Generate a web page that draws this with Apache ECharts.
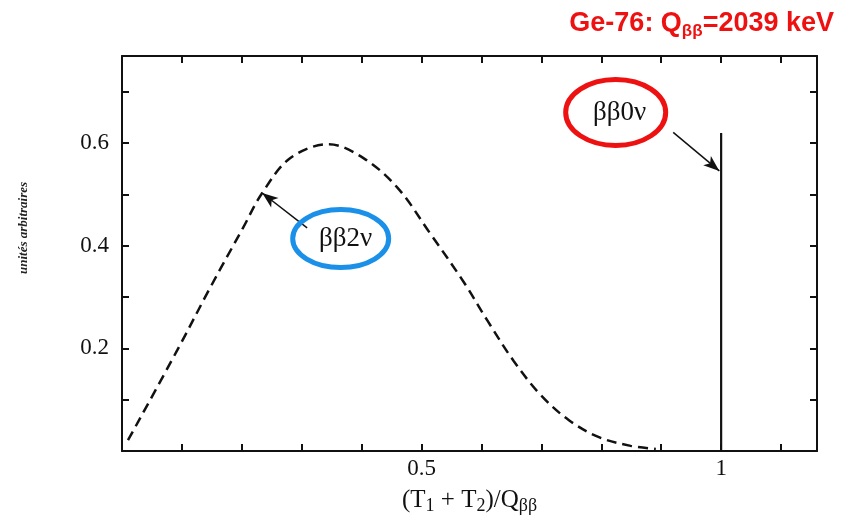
<!DOCTYPE html>
<html>
<head>
<meta charset="utf-8">
<script src="https://cdn.jsdelivr.net/npm/echarts@6/dist/echarts.min.js"></script>
<style>
  html, body { margin: 0; padding: 0; background: #fff; }
  #main { width: 851px; height: 521px; }
</style>
</head>
<body>
<div id="main"></div>
<script>
// 2nu double beta spectrum (dashed)
var twoNuX = [0.01, 0.092, 0.147, 0.202, 0.234, 0.281, 0.345, 0.403, 0.46, 0.515, 0.57, 0.61, 0.654, 0.699, 0.746, 0.796, 0.849, 0.891];
var twoNuY = [0.021, 0.196, 0.318, 0.435, 0.503, 0.571, 0.598, 0.571, 0.513, 0.423, 0.330, 0.254, 0.175, 0.109, 0.060, 0.027, 0.010, 0.004];
// 0nu peak at the endpoint
var zeroNuX = [1, 1];
var zeroNuY = [0, 0.62];
// tick labels shown
var xLabels = [0.5, 1];
var yLabels = [0.2, 0.4, 0.6];
// annotations (data coords): label centre, arrow start, arrow end
var ann0nu = { text: 'ββ0ν', at: [0.824, 0.660], from: [0.920, 0.621], to: [0.997, 0.546] };
var ann2nu = { text: 'ββ2ν', at: [0.365, 0.414], from: [0.309, 0.435], to: [0.234, 0.503] };

var chart = echarts.init(document.getElementById('main'));

var serif = '"Liberation Serif", "DejaVu Serif", serif';
function pick(list, v) {
  for (var i = 0; i < list.length; i++) if (Math.abs(list[i] - v) < 1e-6) return true;
  return false;
}
function pairs(xs, ys) {
  return xs.map(function (x, i) { return [x, ys[i]]; });
}

var axisBase = {
  type: 'value',
  axisLine: { show: true, onZero: false, lineStyle: { color: '#111', width: 2 } },
  axisTick: { show: true, inside: true, length: 7, lineStyle: { color: '#111', width: 2 } },
  splitLine: { show: false }
};

var option = {
  animation: false,
  backgroundColor: '#fff',
  title: {
    text: 'Ge-76: Q{s|ββ}=2039 keV',
    right: 12,
    top: 3,
    textStyle: {
      color: '#ee1111',
      fontFamily: '"Liberation Sans", Arial, sans-serif',
      fontWeight: 'bold',
      fontSize: 27,
      rich: {
        s: { color: '#ee1111', fontFamily: '"Liberation Sans", Arial, sans-serif', fontWeight: 'bold', fontSize: 17, padding: [15, 0, 0, 0] }
      }
    }
  },
  grid: { left: 122, right: 34, top: 56, bottom: 70, containLabel: false, outerBoundsMode: 'none' },
  xAxis: [
    Object.assign({}, axisBase, {
      min: 0, max: 1.16, interval: 0.1, position: 'bottom',
      axisLabel: {
        color: '#111', fontFamily: serif, fontSize: 23, margin: 6,
        formatter: function (v) { return pick(xLabels, v) ? String(+v.toFixed(1)) : ''; }
      },
      name: '(T{s|1} + T{s|2})/Q{s|ββ}',
      nameLocation: 'middle',
      nameGap: 34,
      nameTextStyle: {
        color: '#111', fontFamily: serif, fontSize: 25,
        rich: { s: { fontFamily: serif, fontSize: 18, padding: [12, 0, 0, 0], color: '#111' } }
      }
    }),
    Object.assign({}, axisBase, {
      min: 0, max: 1.16, interval: 0.1, position: 'top',
      axisLabel: { show: false }
    })
  ],
  yAxis: [
    Object.assign({}, axisBase, {
      min: 0, max: 0.77, interval: 0.1, position: 'left',
      axisLabel: {
        color: '#111', fontFamily: serif, fontSize: 23, margin: 13,
        formatter: function (v) { return pick(yLabels, v) ? v.toFixed(1) : ''; }
      }
    }),
    Object.assign({}, axisBase, {
      min: 0, max: 0.77, interval: 0.1, position: 'right',
      axisLabel: { show: false }
    })
  ],
  series: [
    {
      name: 'ββ2ν',
      type: 'line',
      smooth: 0.35,
      showSymbol: false,
      data: pairs(twoNuX, twoNuY),
      lineStyle: { color: '#111', width: 2.5, type: [10, 6] },
      markLine: {
        silent: true,
        symbol: ['none', 'arrow'],
        symbolSize: [9, 16],
        label: { show: false },
        lineStyle: { color: '#111', width: 1.5, type: 'solid' },
        data: [
          [{ coord: ann2nu.from }, { coord: ann2nu.to }],
          [{ coord: ann0nu.from }, { coord: ann0nu.to }]
        ]
      }
    },
    {
      name: 'ββ0ν',
      type: 'line',
      showSymbol: false,
      data: pairs(zeroNuX, zeroNuY),
      lineStyle: { color: '#111', width: 2.2 }
    }
  ]
};

chart.setOption(option);

function px(p) { return chart.convertToPixel({ xAxisIndex: 0, yAxisIndex: 0 }, p); }
var c0 = px(ann0nu.at), c2 = px(ann2nu.at);

chart.setOption({
  graphic: [
    {
      type: 'ellipse',
      shape: { cx: c0[0], cy: c0[1], rx: 50, ry: 33 },
      style: { fill: 'none', stroke: '#ee1111', lineWidth: 5 },
      z: 10
    },
    {
      type: 'text',
      x: c0[0] + 4, y: c0[1],
      style: { text: ann0nu.text, font: '27px ' + serif, fill: '#111', textAlign: 'center', textVerticalAlign: 'middle' },
      z: 11
    },
    {
      type: 'ellipse',
      shape: { cx: c2[0], cy: c2[1], rx: 48, ry: 29 },
      style: { fill: 'none', stroke: '#1a90e8', lineWidth: 5 },
      z: 10
    },
    {
      type: 'text',
      x: c2[0] + 5, y: c2[1],
      style: { text: ann2nu.text, font: '27px ' + serif, fill: '#111', textAlign: 'center', textVerticalAlign: 'middle' },
      z: 11
    },
    {
      type: 'text',
      x: 24, y: 228,
      rotation: Math.PI / 2,
      style: { text: 'unités arbitraires', font: 'italic bold 13px ' + serif, fill: '#222', textAlign: 'center', textVerticalAlign: 'middle' }
    }
  ]
});
</script>
</body>
</html>
